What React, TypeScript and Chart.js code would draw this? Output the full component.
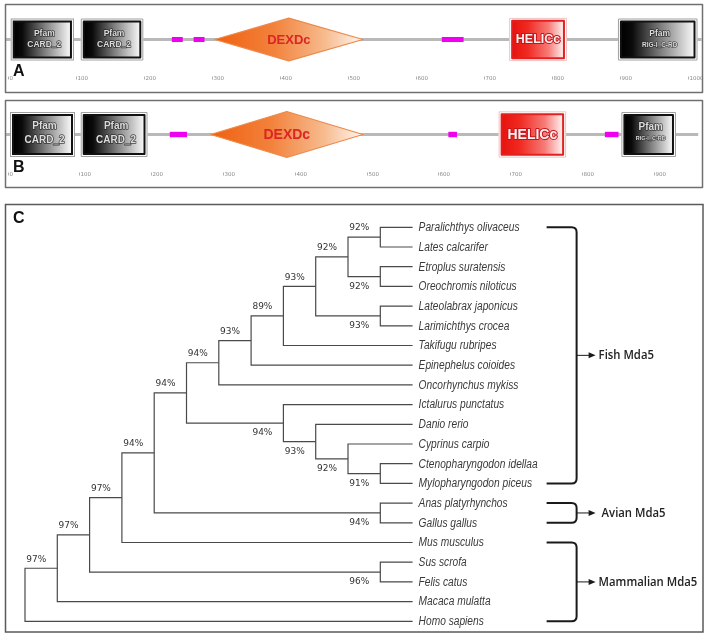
import React, { useEffect, useRef } from 'react';
import { Chart, registerables } from 'chart.js';
Chart.register(...registerables);

const W = 709;

// ---------- Panel A (domain architecture) ----------
const TICKS_A = [0, 100, 200, 300, 400, 500, 600, 700, 800, 900, 1000];
const BACKBONE_A = [-3, 1020];
const DOMAIN_TYPE_A = ['pfam', 'pfam', 'lc', 'lc', 'dexdc', 'lc', 'helicc', 'pfam'];
const DOMAIN_NAME_A = ['CARD_2', 'CARD_2', '', '', 'DEXDc', '', 'HELICc', 'RIG-I_C-RD'];
const DOMAIN_START_A = [4, 107, 241, 273, 304, 638, 737, 897];
const DOMAIN_END_A = [97, 199, 257, 289, 522, 670, 822, 1014];

// ---------- Panel B (domain architecture) ----------
const TICKS_B = [0, 100, 200, 300, 400, 500, 600, 700, 800, 900];
const BACKBONE_B = [-2, 962];
const DOMAIN_TYPE_B = ['pfam', 'pfam', 'lc', 'dexdc', 'lc', 'helicc', 'lc', 'pfam'];
const DOMAIN_NAME_B = ['CARD_2', 'CARD_2', '', 'DEXDc', '', 'HELICc', '', 'RIG-I_C-RD'];
const DOMAIN_START_B = [3.5, 102, 226, 283, 614, 684, 832, 855];
const DOMAIN_END_B = [94, 195, 250, 495, 626, 778, 851, 931];

// ---------- Panel C (tree) ----------
const SPECIES = [
  'Paralichthys olivaceus', 'Lates calcarifer', 'Etroplus suratensis', 'Oreochromis niloticus',
  'Lateolabrax japonicus', 'Larimichthys crocea', 'Takifugu rubripes', 'Epinephelus coioides',
  'Oncorhynchus mykiss', 'Ictalurus punctatus', 'Danio rerio', 'Cyprinus carpio',
  'Ctenopharyngodon idellaa', 'Mylopharyngodon piceus', 'Anas platyrhynchos', 'Gallus gallus',
  'Mus musculus', 'Sus scrofa', 'Felis catus', 'Macaca mulatta', 'Homo sapiens',
];
const LEAF_DEPTH = 12;
const NODE_NAMES = ['n1', 'n2', 'n3', 'n4', 'n5', 'n6', 'n7', 'n8', 'n9', 'n10', 'n11', 'n12', 'n13', 'n14', 'n15', 'n16', 'n17', 'n18', 'n19', 'root'];
const NODE_DEPTH = [11, 11, 10, 11, 9, 8, 7, 6, 11, 10, 9, 8, 5, 11, 4, 3, 11, 2, 1, 0];
const NODE_CHILD_1: (number | string)[] = [0, 2, 'n1', 4, 'n3', 'n5', 'n6', 'n7', 12, 11, 10, 9, 'n8', 14, 'n13', 'n15', 17, 'n16', 'n18', 'n19'];
const NODE_CHILD_2: (number | string)[] = [1, 3, 'n2', 5, 'n4', 6, 7, 8, 13, 'n9', 'n10', 'n11', 'n12', 15, 'n14', 16, 18, 'n17', 19, 20];
const NODE_SUPPORT = ['92%', '92%', '92%', '93%', '93%', '89%', '93%', '94%', '91%', '92%', '93%', '94%', '94%', '94%', '94%', '97%', '96%', '97%', '97%', ''];
const GROUP_NAMES = ['Fish Mda5', 'Avian Mda5', 'Mammalian Mda5'];
const GROUP_FIRST = [0, 14, 16];
const GROUP_LAST = [13, 15, 20];

// ---------- helpers ----------
const childY = (c: number | string): number =>
  typeof c === 'number' ? c : nodeY(NODE_NAMES.indexOf(c));
function nodeY(i: number): number {
  return (childY(NODE_CHILD_1[i]) + childY(NODE_CHILD_2[i])) / 2;
}
const childX = (c: number | string): number =>
  typeof c === 'number' ? LEAF_DEPTH : NODE_DEPTH[NODE_NAMES.indexOf(c)];

const HALF: Record<string, number> = { pfam: 1, helicc: 1.03, dexdc: 1.02, lc: 0.12 };

type PanelCfg = {
  letter: string;
  ticks: number[];
  backbone: number[];
  types: string[];
  names: string[];
  starts: number[];
  ends: number[];
  xMin: number; xMax: number; yMin: number; yMax: number;
  tickY: number; letterY: number; big: boolean;
  border: [number, number, number, number];
};

function drawPfam(ctx: CanvasRenderingContext2D, x0: number, x1: number, y0: number, y1: number, name: string, big: boolean) {
  ctx.fillStyle = '#fff';
  ctx.fillRect(x0, y0, x1 - x0, y1 - y0);
  ctx.strokeStyle = '#a0a0a0';
  ctx.lineWidth = 1;
  ctx.strokeRect(x0 + 0.5, y0 + 0.5, x1 - x0 - 1, y1 - y0 - 1);
  const ix0 = x0 + 3, ix1 = x1 - 3, iy0 = y0 + 3, iy1 = y1 - 3;
  const g = ctx.createLinearGradient(ix0, 0, ix1, 0);
  g.addColorStop(0, '#000');
  g.addColorStop(0.15, '#0a0a0a');
  g.addColorStop(0.55, '#808080');
  g.addColorStop(1, '#fafafa');
  ctx.fillStyle = g;
  ctx.fillRect(ix0, iy0, ix1 - ix0, iy1 - iy0);
  ctx.strokeStyle = '#111';
  ctx.lineWidth = 2;
  ctx.strokeRect(ix0, iy0, ix1 - ix0, iy1 - iy0);
  const cx = (x0 + x1) / 2 + 2;
  const cy = (y0 + y1) / 2;
  ctx.textAlign = 'center';
  ctx.textBaseline = 'middle';
  const small = name.length > 6;
  const f1 = big ? 10 : 8.5;
  const f2 = small ? (big ? 5.5 : 6.5) : (big ? 10 : 8.5);
  const o1 = big ? (small ? -7 : -8.5) : -5.5;
  const o2 = big ? (small ? 4 : 5.5) : 5.5;
  ctx.lineJoin = 'round';
  ctx.font = `bold ${f1}px "Liberation Sans"`;
  ctx.strokeStyle = 'rgba(30,30,30,0.8)';
  ctx.lineWidth = 1.4;
  ctx.strokeText('Pfam', cx, cy + o1);
  ctx.fillStyle = '#dcdcdc';
  ctx.fillText('Pfam', cx, cy + o1);
  ctx.font = `bold ${f2}px "Liberation Sans"`;
  ctx.lineWidth = small ? 1.1 : 1.4;
  ctx.strokeText(name, cx, cy + o2);
  ctx.fillText(name, cx, cy + o2);
}

function drawHelicc(ctx: CanvasRenderingContext2D, x0: number, x1: number, y0: number, y1: number, name: string, big: boolean) {
  ctx.fillStyle = '#fff';
  ctx.fillRect(x0, y0, x1 - x0, y1 - y0);
  ctx.strokeStyle = '#f2c2c2';
  ctx.lineWidth = 1;
  ctx.strokeRect(x0 + 0.5, y0 + 0.5, x1 - x0 - 1, y1 - y0 - 1);
  const ix0 = x0 + 3, ix1 = x1 - 3, iy0 = y0 + 3, iy1 = y1 - 3;
  const g = ctx.createLinearGradient(ix0, 0, ix1, 0);
  g.addColorStop(0, '#e8120c');
  g.addColorStop(0.3, '#f02a22');
  g.addColorStop(0.7, '#f77b76');
  g.addColorStop(1, '#fff4f4');
  ctx.fillStyle = g;
  ctx.fillRect(ix0, iy0, ix1 - ix0, iy1 - iy0);
  ctx.strokeStyle = '#e32020';
  ctx.lineWidth = 2;
  ctx.strokeRect(ix0, iy0, ix1 - ix0, iy1 - iy0);
  ctx.font = `bold ${big ? 14 : 12.5}px "Liberation Sans"`;
  ctx.textAlign = 'center';
  ctx.textBaseline = 'middle';
  const cx = (x0 + x1) / 2;
  const cy = (y0 + y1) / 2 + 0.5;
  ctx.lineJoin = 'round';
  ctx.strokeStyle = '#c4141a';
  ctx.lineWidth = 2;
  ctx.strokeText(name, cx, cy);
  ctx.fillStyle = '#fff0f0';
  ctx.fillText(name, cx, cy);
}

function drawDexdc(ctx: CanvasRenderingContext2D, x0: number, x1: number, y0: number, y1: number, name: string, big: boolean) {
  const cx = (x0 + x1) / 2;
  const cy = (y0 + y1) / 2;
  const g = ctx.createLinearGradient(x0, 0, x1, 0);
  g.addColorStop(0, '#f06010');
  g.addColorStop(0.4, '#f2823c');
  g.addColorStop(0.75, '#f7bc90');
  g.addColorStop(1, '#fff6f0');
  ctx.beginPath();
  ctx.moveTo(x0, cy);
  ctx.lineTo(cx, y0);
  ctx.lineTo(x1, cy);
  ctx.lineTo(cx, y1);
  ctx.closePath();
  ctx.fillStyle = g;
  ctx.fill();
  ctx.strokeStyle = '#ec8a4c';
  ctx.lineWidth = 1.2;
  ctx.stroke();
  ctx.font = `bold ${big ? 14 : 13}px "Liberation Sans"`;
  ctx.textAlign = 'center';
  ctx.textBaseline = 'middle';
  ctx.fillStyle = '#dc2626';
  ctx.fillText(name, cx, cy + 0.5);
}

function panelPlugin(p: PanelCfg) {
  return {
    id: 'domains' + p.letter,
    afterDatasetsDraw(chart: any) {
      const ctx: CanvasRenderingContext2D = chart.ctx;
      const x = chart.scales.x;
      const y = chart.scales.y;
      ctx.save();
      // ticks
      const ty = y.getPixelForValue(p.tickY);
      ctx.font = '5.5px "DejaVu Sans"';
      ctx.textAlign = 'left';
      ctx.textBaseline = 'middle';
      p.ticks.forEach((t) => {
        const px = Math.round(x.getPixelForValue(t));
        ctx.fillStyle = '#b0b0b0';
        ctx.fillRect(px, ty - 2.5, 1, 3);
        ctx.fillStyle = '#8a8a8a';
        ctx.fillText(String(t), px + 1.5, ty);
      });
      // domains
      p.types.forEach((type, i) => {
        const h = HALF[type];
        const x0 = x.getPixelForValue(p.starts[i]);
        const x1 = x.getPixelForValue(p.ends[i]);
        const y0 = y.getPixelForValue(h);
        const y1 = y.getPixelForValue(-h);
        if (type === 'pfam') drawPfam(ctx, x0, x1, y0, y1, p.names[i], p.big);
        else if (type === 'helicc') drawHelicc(ctx, x0, x1, y0, y1, p.names[i], p.big);
        else if (type === 'dexdc') drawDexdc(ctx, x0, x1, y0, y1, p.names[i], p.big);
        else {
          ctx.fillStyle = '#f000f0';
          ctx.fillRect(x0, y0, x1 - x0, y1 - y0);
        }
      });
      // letter
      ctx.font = 'bold 16px "Liberation Sans"';
      ctx.fillStyle = '#111';
      ctx.textAlign = 'left';
      ctx.textBaseline = 'middle';
      ctx.fillText(p.letter, 13, y.getPixelForValue(p.letterY));
      // border
      ctx.strokeStyle = '#707070';
      ctx.lineWidth = 1.5;
      ctx.strokeRect(...p.border);
      ctx.restore();
    },
  };
}

function panelConfig(p: PanelCfg): any {
  return {
    type: 'scatter',
    data: {
      datasets: [
        {
          data: [{ x: p.backbone[0], y: 0 }, { x: p.backbone[1], y: 0 }],
          showLine: true,
          borderColor: '#b9b9b9',
          borderWidth: 3,
          pointRadius: 0,
          fill: false,
        },
      ],
    },
    options: {
      responsive: false,
      animation: false,
      devicePixelRatio: 1,
      events: [],
      layout: { padding: 0 },
      plugins: { legend: { display: false }, tooltip: { enabled: false }, title: { display: false } },
      scales: {
        x: { type: 'linear', display: false, min: p.xMin, max: p.xMax },
        y: { type: 'linear', display: false, min: p.yMin, max: p.yMax },
      },
    },
    plugins: [panelPlugin(p)],
  };
}

const treePlugin = {
  id: 'treeText',
  afterDatasetsDraw(chart: any) {
    const ctx: CanvasRenderingContext2D = chart.ctx;
    const x = chart.scales.x;
    const y = chart.scales.y;
    ctx.save();
    // support values
    ctx.font = '9px "DejaVu Sans"';
    ctx.fillStyle = '#333';
    ctx.textAlign = 'center';
    ctx.textBaseline = 'middle';
    NODE_NAMES.forEach((n, i) => {
      if (!NODE_SUPPORT[i]) return;
      const isSecond = NODE_CHILD_2.indexOf(n) >= 0;
      const px = x.getPixelForValue(NODE_DEPTH[i]) - 21;
      const py = y.getPixelForValue(nodeY(i)) + (isSecond ? 10 : -9);
      ctx.fillText(NODE_SUPPORT[i], px, py);
    });
    // species
    ctx.font = 'italic 12px "Liberation Sans"';
    ctx.fillStyle = '#3a3a3a';
    ctx.textAlign = 'left';
    const lx = x.getPixelForValue(LEAF_DEPTH) + 6;
    SPECIES.forEach((s, i) => {
      const w = ctx.measureText(s).width;
      ctx.fillText(s, lx, y.getPixelForValue(i) + 0.5, w * 0.85);
    });
    // group brackets
    const xa = x.getPixelForValue(LEAF_DEPTH) + 134;
    const xv = xa + 30;
    GROUP_NAMES.forEach((g, k) => {
      const yt = y.getPixelForValue(GROUP_FIRST[k]);
      const yb = y.getPixelForValue(GROUP_LAST[k]);
      const r = 5;
      ctx.beginPath();
      ctx.moveTo(xa, yt);
      ctx.lineTo(xv - r, yt);
      ctx.quadraticCurveTo(xv, yt, xv, yt + r);
      ctx.lineTo(xv, yb - r);
      ctx.quadraticCurveTo(xv, yb, xv - r, yb);
      ctx.lineTo(xa, yb);
      ctx.strokeStyle = '#1a1a1a';
      ctx.lineWidth = 2;
      ctx.stroke();
      const ym = (yt + yb) / 2;
      ctx.beginPath();
      ctx.moveTo(xv, ym);
      ctx.lineTo(xv + 13, ym);
      ctx.lineWidth = 1;
      ctx.stroke();
      ctx.beginPath();
      ctx.moveTo(xv + 12, ym - 3);
      ctx.lineTo(xv + 19, ym);
      ctx.lineTo(xv + 12, ym + 3);
      ctx.closePath();
      ctx.fillStyle = '#1a1a1a';
      ctx.fill();
      ctx.font = '600 13px "Open Sans"';
      ctx.fillStyle = '#222';
      ctx.textBaseline = 'middle';
      const gw = ctx.measureText(g).width;
      ctx.fillText(g, xv + (k === 1 ? 25 : 22), ym, gw * 0.87);
    });
    // letter
    ctx.font = 'bold 16px "Liberation Sans"';
    ctx.fillStyle = '#111';
    ctx.fillText('C', 13, 23);
    // border
    ctx.strokeStyle = '#5a5a5a';
    ctx.lineWidth = 1.5;
    ctx.strokeRect(5.5, 8.5, 697.5, 427.5);
    ctx.restore();
  },
};

function treeConfig(): any {
  const datasets = NODE_NAMES.map((n, i) => {
    const c1 = NODE_CHILD_1[i];
    const c2 = NODE_CHILD_2[i];
    return {
      data: [
        { x: childX(c1), y: childY(c1) },
        { x: NODE_DEPTH[i], y: childY(c1) },
        { x: NODE_DEPTH[i], y: childY(c2) },
        { x: childX(c2), y: childY(c2) },
      ],
      showLine: true,
      borderColor: '#4a4a4a',
      borderWidth: 1.2,
      borderJoinStyle: 'miter',
      pointRadius: 0,
      tension: 0,
      fill: false,
    };
  });
  return {
    type: 'scatter',
    data: { datasets },
    options: {
      responsive: false,
      animation: false,
      devicePixelRatio: 1,
      events: [],
      layout: { padding: 0 },
      plugins: { legend: { display: false }, tooltip: { enabled: false }, title: { display: false } },
      scales: {
        x: { type: 'linear', display: false, min: -0.774, max: 21.176 },
        y: { type: 'linear', display: false, reverse: true, min: -1.589, max: 20.695 },
      },
    },
    plugins: [treePlugin],
  };
}

function ChartCanvas({ top, height, build }: { top: number; height: number; build: () => any }) {
  const ref = useRef<HTMLCanvasElement>(null);
  useEffect(() => {
    const chart = new Chart(ref.current as HTMLCanvasElement, build());
    return () => chart.destroy();
  }, []);
  return (
    <canvas
      ref={ref}
      width={W}
      height={height}
      style={{ position: 'absolute', left: 0, top, width: W, height, display: 'block' }}
    />
  );
}

const PANEL_A: PanelCfg = {
  letter: 'A', ticks: TICKS_A, backbone: BACKBONE_A, types: DOMAIN_TYPE_A, names: DOMAIN_NAME_A,
  starts: DOMAIN_START_A, ends: DOMAIN_END_A,
  xMin: -11.76, xMax: 1030.9, yMin: -2.69, yMax: 1.881, tickY: -1.88, letterY: -1.55, big: false,
  border: [5.5, 4.5, 697, 88],
};
const PANEL_B: PanelCfg = {
  letter: 'B', ticks: TICKS_B, backbone: BACKBONE_B, types: DOMAIN_TYPE_B, names: DOMAIN_NAME_B,
  starts: DOMAIN_START_B, ends: DOMAIN_END_B,
  xMin: -10.45, xMax: 977.0, yMin: -2.644, yMax: 1.711, tickY: -1.8, letterY: -1.47, big: true,
  border: [5.5, 4.5, 697, 87],
};

export default function App() {
  return (
    <div style={{ position: 'absolute', left: 0, top: 0, width: W, height: 635, background: '#fff', overflow: 'hidden' }}>
      <ChartCanvas top={0} height={96} build={() => panelConfig(PANEL_A)} />
      <ChartCanvas top={96} height={98} build={() => panelConfig(PANEL_B)} />
      <ChartCanvas top={196} height={439} build={treeConfig} />
    </div>
  );
}
